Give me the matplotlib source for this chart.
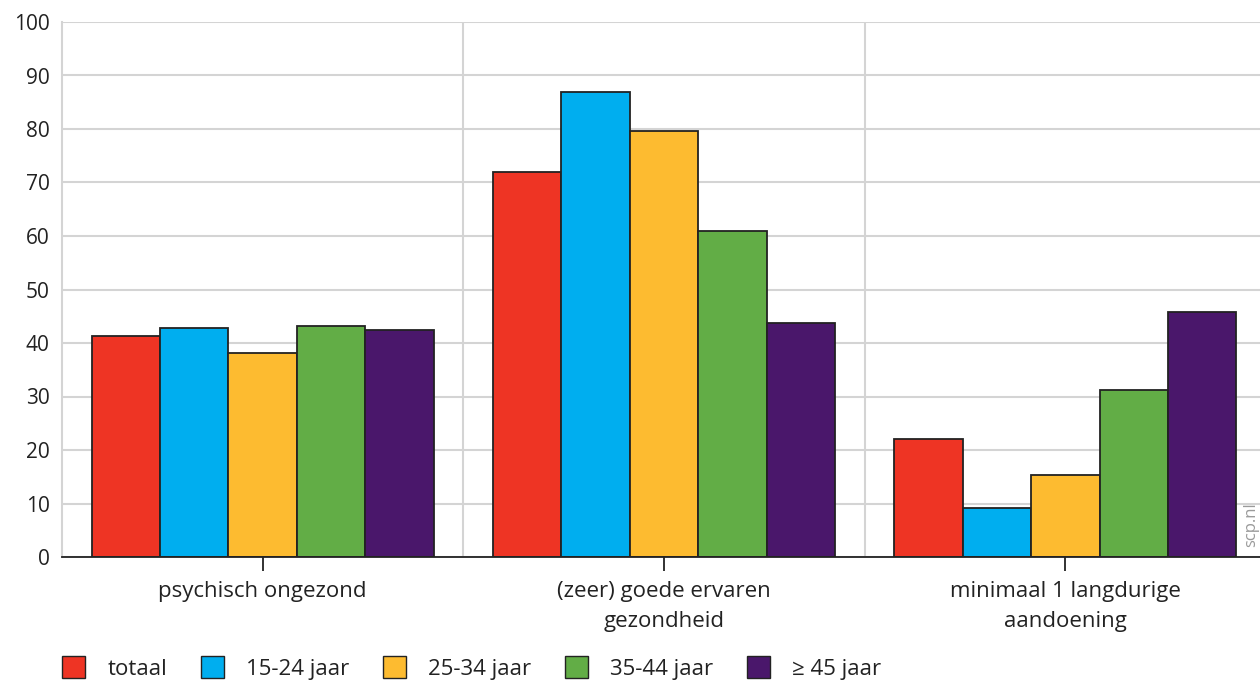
import matplotlib
matplotlib.use("Agg")
import matplotlib.pyplot as plt
import numpy as np
from matplotlib.patches import Patch

categories = ["psychisch ongezond", "(zeer) goede ervaren\ngezondheid", "minimaal 1 langdurige\naandoening"]
series_names = ["totaal", "15-24 jaar", "25-34 jaar", "35-44 jaar", "≥ 45 jaar"]
totaal = [41.3, 72.0, 22.1]
jaar_15_24 = [42.8, 86.9, 9.2]
jaar_25_34 = [38.1, 79.6, 15.3]
jaar_35_44 = [43.2, 60.9, 31.2]
jaar_45_plus = [42.4, 43.7, 45.8]
yticks = [0, 10, 20, 30, 40, 50, 60, 70, 80, 90, 100]

series = [totaal, jaar_15_24, jaar_25_34, jaar_35_44, jaar_45_plus]
colors = ["#ee3424", "#00aeef", "#fdbb30", "#62ad46", "#4a176b"]

plt.rcParams['font.family'] = ['Open Sans', 'DejaVu Sans']

fig = plt.figure(figsize=(12.6, 6.82), dpi=100)
ax = fig.add_axes([62/1260, 1-557/682, (1266-62)/1260, (557-22)/682])

x = np.arange(len(categories))
w = 0.1705
for i, (vals, c) in enumerate(zip(series, colors)):
    ax.bar(x + (i - 2) * w, vals, width=w, color=c, edgecolor="#222222", linewidth=1.3, zorder=3)

ax.set_xlim(-0.5, len(categories) - 0.5)
ax.set_ylim(0, 100)
ax.set_yticks(yticks)
ax.set_yticklabels([str(t) for t in yticks], fontsize=15, color="#222222")
ax.tick_params(axis='y', length=0, pad=9)
ax.yaxis.grid(True, color="#d4d4d4", linewidth=1.5, zorder=0)
for b in [0.5, 1.5]:
    ax.axvline(b, color="#d4d4d4", linewidth=1.5, zorder=0)

ax.set_xticks(x)
ax.set_xticklabels(categories, fontsize=16, color="#222222", linespacing=1.6)
ax.tick_params(axis='x', length=10, width=1.3, color="#222222", pad=7)

for s in ["top", "right"]:
    ax.spines[s].set_visible(False)
ax.spines["left"].set_color("#d4d4d4")
ax.spines["left"].set_linewidth(1.5)
ax.spines["bottom"].set_color("#222222")
ax.spines["bottom"].set_linewidth(1.3)
ax.spines["bottom"].set_zorder(4)

handles = [Patch(facecolor=c, edgecolor="#222222", linewidth=1.0) for c in colors]
fig.legend(handles, series_names, loc="center left", bbox_to_anchor=(42/1260, 1-668/682),
           ncol=5, frameon=False, fontsize=16, handlelength=1.05, handleheight=1.1,
           handletextpad=1.0, columnspacing=1.5, labelcolor="#222222")

fig.text(1251/1260, 1-525/682, "scp.nl", rotation=90, fontsize=12, color="#9a9a9a",
         ha="center", va="center")

fig.savefig("out.png", dpi=100)
